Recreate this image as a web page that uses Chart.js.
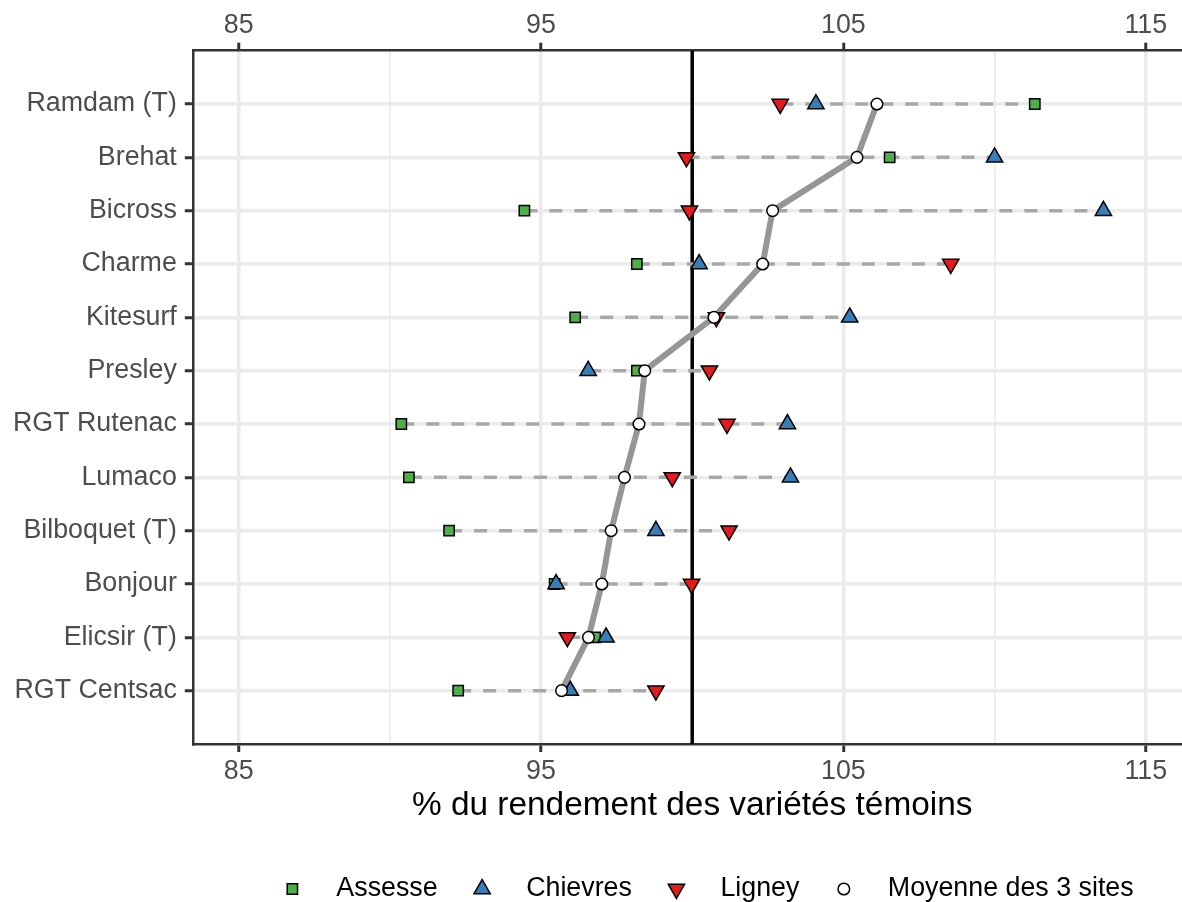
<!DOCTYPE html>
<html>
<head>
<meta charset="utf-8">
<script src="https://cdn.jsdelivr.net/npm/chart.js@4/dist/chart.umd.min.js"></script>
<style>
  html, body { margin: 0; padding: 0; background: #fff; overflow: hidden; }
  /* the plot runs past the right edge of the window, like the cropped original */
  #wrap { width: 1202px; height: 902px; }
</style>
</head>
<body>
<div id="wrap"><canvas id="chart" width="1202" height="902"></canvas></div>
<script>
// varieties, top to bottom
const varieties = ['Ramdam (T)', 'Brehat', 'Bicross', 'Charme', 'Kitesurf', 'Presley',
    'RGT Rutenac', 'Lumaco', 'Bilboquet (T)', 'Bonjour', 'Elicsir (T)', 'RGT Centsac'];

// % of control yield
const assesse  = [111.33, 106.53, 94.45, 98.17, 96.13, 98.17, 90.38, 90.63, 91.96, 95.45, 96.79, 92.26];
const chievres = [104.09, 110.00, 113.60, 100.23, 105.21, 96.56, 103.15, 103.25, 98.80, 95.50, 97.15, 95.97];
const ligney   = [102.91, 99.81, 99.91, 108.55, 100.80, 100.57, 101.15, 99.34, 101.22, 99.98, 95.87, 98.80];
const moyenne  = [106.11, 105.45, 102.66, 102.33, 100.72, 98.43, 98.24, 97.76, 97.32, 97.01, 96.57, 95.68];

const xTicks = [85, 90, 95, 100, 105, 110, 115];
const xLabels = [85, 95, 105, 115];
const refLine = 100;
const xTitle = '% du rendement des variétés témoins';

const FONT = '"Liberation Sans", Arial, sans-serif';
const GRID = '#ebebeb';
const AXIS = '#333333';
const TXT = '#4d4d4d';

const series = [
    { label: 'Assesse', data: assesse, style: 'rect', color: '#4daf4a', radius: 7.3, rotation: 0 },
    { label: 'Chievres', data: chievres, style: 'triangle', color: '#377eb8', radius: 9.4, rotation: 0 },
    { label: 'Ligney', data: ligney, style: 'triangle', color: '#e41a1c', radius: 9.4, rotation: 180 },
    { label: 'Moyenne des 3 sites', data: moyenne, style: 'circle', color: '#ffffff', radius: 5.8, rotation: 0 },
];

const datasets = [];

// dashed range per variety (min to max of the three sites)
varieties.forEach((name, i) => {
    const vals = [assesse[i], chievres[i], ligney[i]];
    datasets.push({
        type: 'line',
        data: [{ x: Math.min(...vals), y: i }, { x: Math.max(...vals), y: i }],
        borderColor: '#a8a8a8',
        borderWidth: 3.5,
        borderDash: [13, 12],
        pointRadius: 0,
        showLine: true,
        order: 20,
    });
});

// mean path
datasets.push({
    type: 'line',
    data: moyenne.map((v, i) => ({ x: v, y: i })),
    borderColor: '#969696',
    borderWidth: 6,
    pointRadius: 0,
    showLine: true,
    tension: 0,
    order: 10,
});

// site markers + mean markers (mean on top)
series.forEach((s, k) => {
    datasets.push({
        label: s.label,
        data: s.data.map((v, i) => ({ x: v, y: i })),
        showLine: false,
        pointStyle: s.style,
        pointRadius: s.radius,
        pointRotation: s.rotation,
        pointBackgroundColor: s.color,
        pointBorderColor: '#000000',
        pointBorderWidth: 1.5,
        order: 4 - k,
    });
});

// vertical reference line at 100
const refLinePlugin = {
    id: 'refLine',
    beforeDatasetsDraw(chart) {
        const { ctx, chartArea, scales } = chart;
        const px = scales.x.getPixelForValue(refLine);
        ctx.save();
        ctx.strokeStyle = '#000000';
        ctx.lineWidth = 3.5;
        ctx.beginPath();
        ctx.moveTo(px, chartArea.top);
        ctx.lineTo(px, chartArea.bottom);
        ctx.stroke();
        ctx.restore();
    }
};

// legend row at the bottom
const legendPlugin = {
    id: 'bottomLegend',
    afterDraw(chart) {
        const ctx = chart.ctx;
        const y = 889;
        const markerGap = 44;
        const itemGap = 44.5;
        ctx.save();
        ctx.font = '26.8px ' + FONT;
        const widths = series.map(s => ctx.measureText(s.label).width);
        let total = 0;
        widths.forEach(w => total += markerGap + w);
        total += itemGap * (series.length - 1);
        let x = 713 - total / 2;
        series.forEach((s, k) => {
            ctx.fillStyle = s.color;
            ctx.strokeStyle = '#000000';
            ctx.lineWidth = 1.5;
            Chart.helpers.drawPoint(ctx, {
                pointStyle: s.style, radius: s.radius, rotation: s.rotation, borderWidth: 1.5
            }, x, y);
            ctx.fillStyle = '#000000';
            ctx.textAlign = 'left';
            ctx.textBaseline = 'middle';
            ctx.fillText(s.label, x + markerGap, y);
            x += markerGap + widths[k] + itemGap;
        });
        ctx.restore();
    }
};

const tickFont = { family: FONT, size: 26.8, lineHeight: 1 };
const isMajor = v => xLabels.includes(v);

function xAxis(position, extra) {
    return Object.assign({
        type: 'linear',
        position: position,
        min: 83.5,
        max: 116.5,
        afterBuildTicks: s => { s.ticks = xTicks.map(v => ({ value: v })); },
        ticks: {
            callback: v => isMajor(v) ? String(v) : '',
            font: tickFont,
            color: TXT,
            maxRotation: 0,
            autoSkip: false,
        },
        grid: {
            color: GRID,
            lineWidth: c => isMajor(c.tick.value) ? 3.5 : 1.7,
            tickLength: 8,
            tickWidth: 3,
            tickColor: c => isMajor(c.tick.value) ? AXIS : 'rgba(0,0,0,0)',
        },
        border: { color: AXIS, width: 2.5 },
    }, extra);
}

const xBottom = xAxis('bottom', {
    afterFit: s => { s.height = 158; },
    title: {
        display: true,
        text: xTitle,
        color: '#000000',
        font: { family: FONT, size: 33.4, lineHeight: 1 },
        padding: { top: 0, bottom: 79.3 },
    },
});
xBottom.ticks.padding = 6;

const xTop = xAxis('top', {
    afterFit: s => { s.height = 50.7; },
});
xTop.ticks.padding = 4;
xTop.grid.drawOnChartArea = false;

new Chart(document.getElementById('chart'), {
    type: 'scatter',
    data: { datasets: datasets },
    options: {
        responsive: false,
        animation: false,
        devicePixelRatio: 1,
        events: [],
        layout: { padding: 0 },
        plugins: {
            legend: { display: false },
            tooltip: { enabled: false },
        },
        scales: {
            x: xBottom,
            x2: xTop,
            y: {
                type: 'linear',
                position: 'left',
                min: -1,
                max: 12,
                reverse: true,
                afterBuildTicks: s => { s.ticks = varieties.map((_, i) => ({ value: i })); },
                afterFit: s => { s.width = 193.3; },
                ticks: {
                    callback: v => varieties[v] !== undefined ? varieties[v] : '',
                    font: tickFont,
                    color: TXT,
                    padding: 8,
                    autoSkip: false,
                },
                grid: {
                    color: GRID,
                    lineWidth: 3.5,
                    tickLength: 8.5,
                    tickWidth: 3,
                    tickColor: AXIS,
                },
                border: { color: AXIS, width: 2.5 },
            },
        },
    },
    plugins: [refLinePlugin, legendPlugin],
});
</script>
</body>
</html>
